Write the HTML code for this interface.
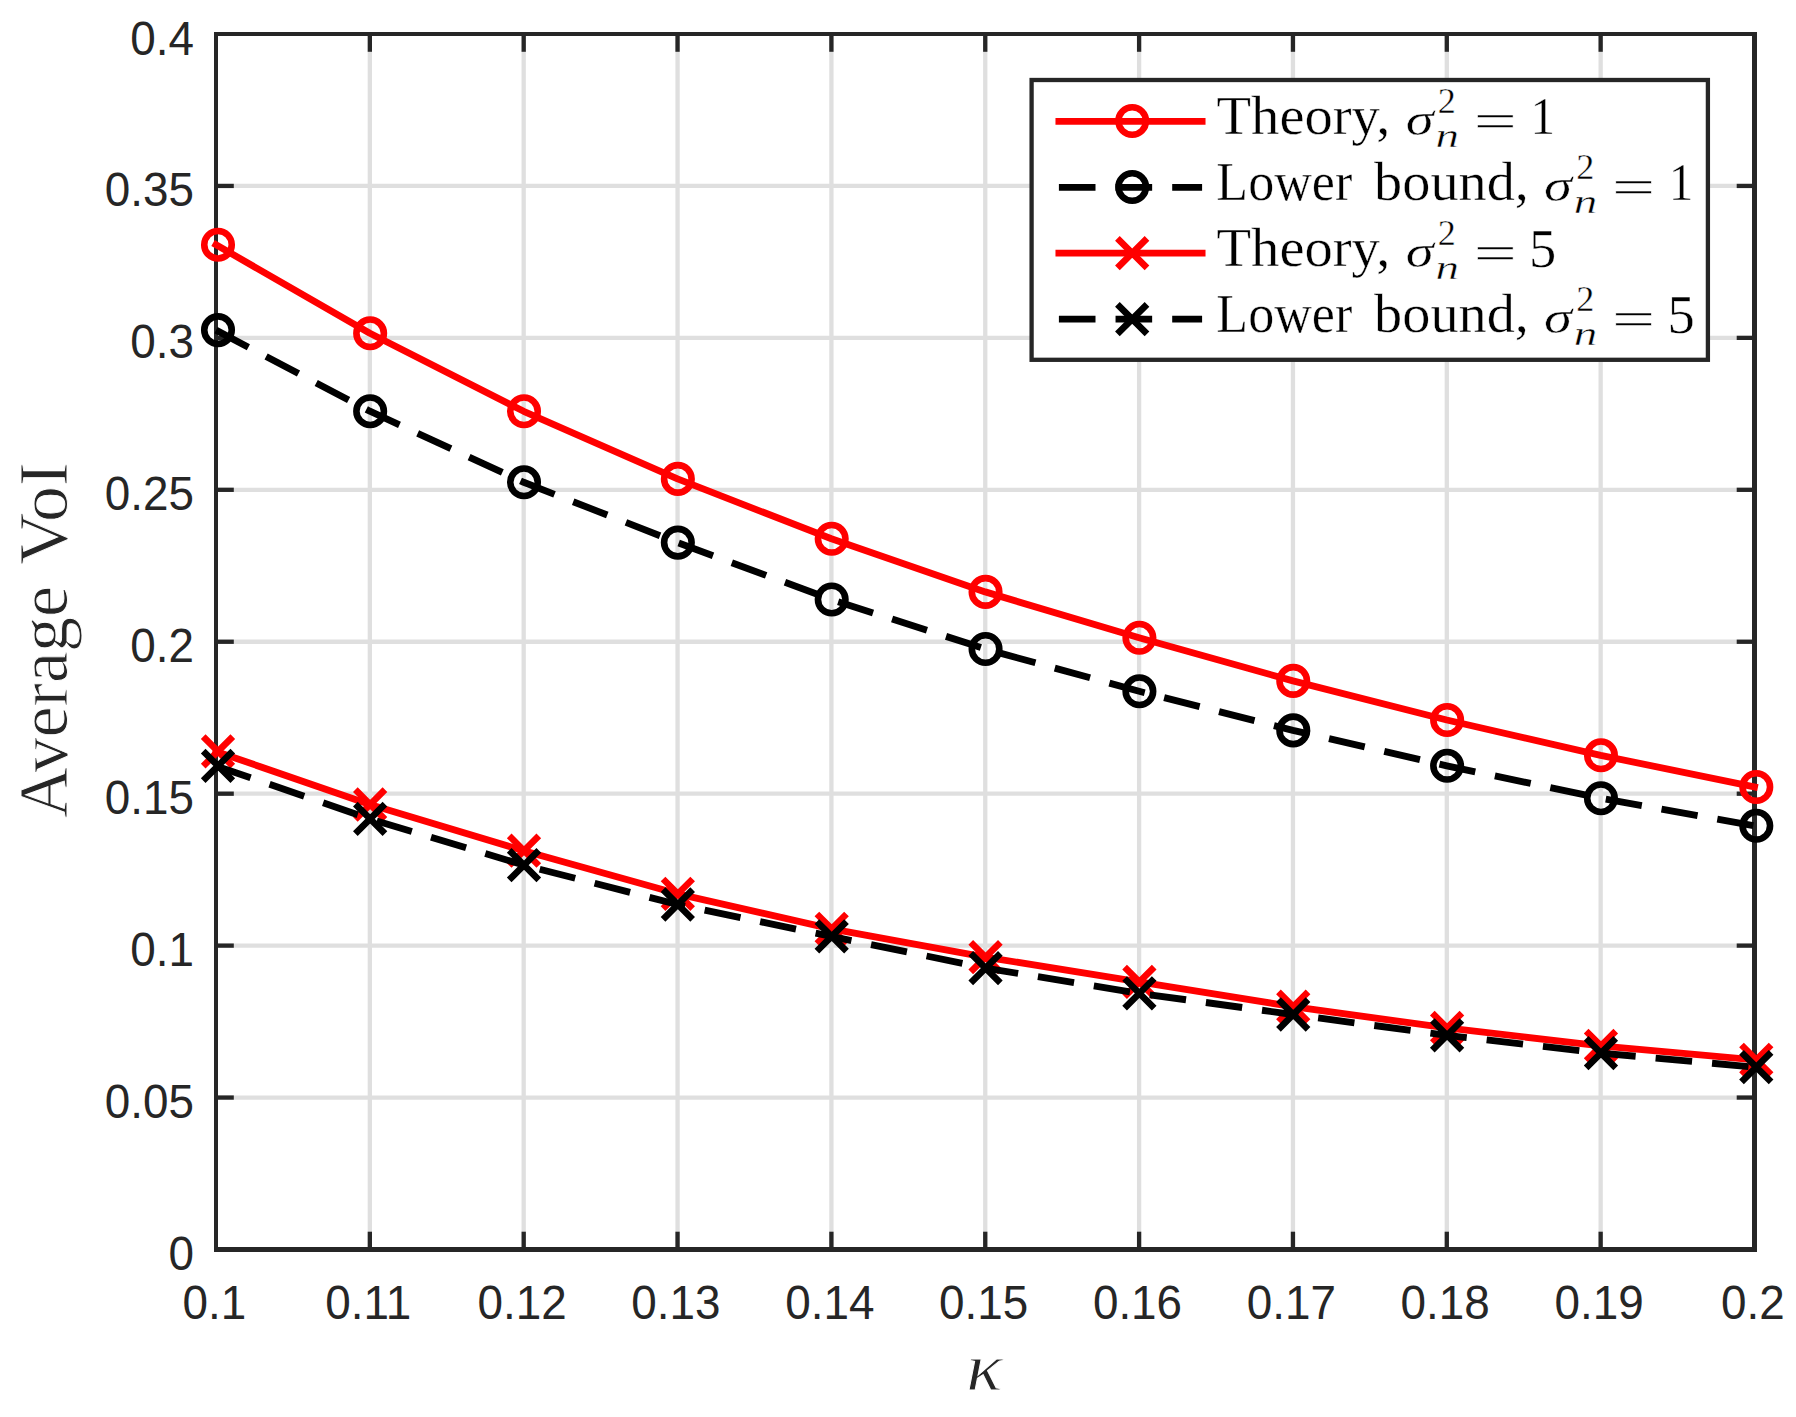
<!DOCTYPE html>
<html lang="en">
<head>
<meta charset="utf-8">
<title>Average VoI versus kappa</title>
<style>
html,body{margin:0;padding:0;background:#fff;}
body{width:1796px;height:1417px;overflow:hidden;}
svg{display:block;}
.tick{font-family:"Liberation Sans",sans-serif;font-size:45.83px;fill:#262626;}
.ser{font-family:"Liberation Serif",serif;fill:#000;stroke:#fff;stroke-width:0.4px;}
.seri{font-family:"Liberation Serif",serif;font-style:italic;fill:#000;stroke:#fff;stroke-width:0.5px;}
</style>
</head>
<body>
<svg width="1796" height="1417" viewBox="0 0 1796 1417">
<rect x="0" y="0" width="1796" height="1417" fill="#ffffff"/>
<g stroke="#dfdfdf" stroke-width="4.30" fill="none">
<line x1="369.85" y1="34.00" x2="369.85" y2="1249.50"/>
<line x1="523.70" y1="34.00" x2="523.70" y2="1249.50"/>
<line x1="677.55" y1="34.00" x2="677.55" y2="1249.50"/>
<line x1="831.40" y1="34.00" x2="831.40" y2="1249.50"/>
<line x1="985.25" y1="34.00" x2="985.25" y2="1249.50"/>
<line x1="1139.10" y1="34.00" x2="1139.10" y2="1249.50"/>
<line x1="1292.95" y1="34.00" x2="1292.95" y2="1249.50"/>
<line x1="1446.80" y1="34.00" x2="1446.80" y2="1249.50"/>
<line x1="1600.65" y1="34.00" x2="1600.65" y2="1249.50"/>
<line x1="216.00" y1="1097.56" x2="1754.50" y2="1097.56"/>
<line x1="216.00" y1="945.62" x2="1754.50" y2="945.62"/>
<line x1="216.00" y1="793.69" x2="1754.50" y2="793.69"/>
<line x1="216.00" y1="641.75" x2="1754.50" y2="641.75"/>
<line x1="216.00" y1="489.81" x2="1754.50" y2="489.81"/>
<line x1="216.00" y1="337.88" x2="1754.50" y2="337.88"/>
<line x1="216.00" y1="185.94" x2="1754.50" y2="185.94"/>
</g>
<g stroke="#262626" stroke-width="4.30" fill="none">
<line x1="369.85" y1="1249.50" x2="369.85" y2="1231.70"/>
<line x1="369.85" y1="34.00" x2="369.85" y2="51.80"/>
<line x1="523.70" y1="1249.50" x2="523.70" y2="1231.70"/>
<line x1="523.70" y1="34.00" x2="523.70" y2="51.80"/>
<line x1="677.55" y1="1249.50" x2="677.55" y2="1231.70"/>
<line x1="677.55" y1="34.00" x2="677.55" y2="51.80"/>
<line x1="831.40" y1="1249.50" x2="831.40" y2="1231.70"/>
<line x1="831.40" y1="34.00" x2="831.40" y2="51.80"/>
<line x1="985.25" y1="1249.50" x2="985.25" y2="1231.70"/>
<line x1="985.25" y1="34.00" x2="985.25" y2="51.80"/>
<line x1="1139.10" y1="1249.50" x2="1139.10" y2="1231.70"/>
<line x1="1139.10" y1="34.00" x2="1139.10" y2="51.80"/>
<line x1="1292.95" y1="1249.50" x2="1292.95" y2="1231.70"/>
<line x1="1292.95" y1="34.00" x2="1292.95" y2="51.80"/>
<line x1="1446.80" y1="1249.50" x2="1446.80" y2="1231.70"/>
<line x1="1446.80" y1="34.00" x2="1446.80" y2="51.80"/>
<line x1="1600.65" y1="1249.50" x2="1600.65" y2="1231.70"/>
<line x1="1600.65" y1="34.00" x2="1600.65" y2="51.80"/>
<line x1="216.00" y1="1097.56" x2="233.80" y2="1097.56"/>
<line x1="1754.50" y1="1097.56" x2="1736.70" y2="1097.56"/>
<line x1="216.00" y1="945.62" x2="233.80" y2="945.62"/>
<line x1="1754.50" y1="945.62" x2="1736.70" y2="945.62"/>
<line x1="216.00" y1="793.69" x2="233.80" y2="793.69"/>
<line x1="1754.50" y1="793.69" x2="1736.70" y2="793.69"/>
<line x1="216.00" y1="641.75" x2="233.80" y2="641.75"/>
<line x1="1754.50" y1="641.75" x2="1736.70" y2="641.75"/>
<line x1="216.00" y1="489.81" x2="233.80" y2="489.81"/>
<line x1="1754.50" y1="489.81" x2="1736.70" y2="489.81"/>
<line x1="216.00" y1="337.88" x2="233.80" y2="337.88"/>
<line x1="1754.50" y1="337.88" x2="1736.70" y2="337.88"/>
<line x1="216.00" y1="185.94" x2="233.80" y2="185.94"/>
<line x1="1754.50" y1="185.94" x2="1736.70" y2="185.94"/>
</g>
<g fill="#262626">
<rect x="214" y="32" width="4" height="1220"/>
<rect x="214" y="32" width="1543" height="4"/>
<rect x="1752" y="32" width="5" height="1220"/>
<rect x="214" y="1247" width="1543" height="5"/>
</g>
<polyline points="216.00,244.70 369.85,333.30 523.70,411.30 677.55,478.90 831.40,538.80 985.25,591.90 1139.10,637.80 1292.95,680.90 1446.80,720.00 1600.65,755.30 1754.50,787.00" fill="none" stroke="#ff0000" stroke-width="6.85" stroke-linecap="square" stroke-linejoin="round"/>
<g fill="none" stroke="#ff0000" stroke-width="6.60" stroke-linejoin="round">
<circle cx="218.00" cy="244.70" r="13.75"/>
<circle cx="370.15" cy="333.30" r="13.75"/>
<circle cx="524.00" cy="411.30" r="13.75"/>
<circle cx="677.85" cy="478.90" r="13.75"/>
<circle cx="831.70" cy="538.80" r="13.75"/>
<circle cx="985.55" cy="591.90" r="13.75"/>
<circle cx="1139.40" cy="637.80" r="13.75"/>
<circle cx="1293.25" cy="680.90" r="13.75"/>
<circle cx="1447.10" cy="720.00" r="13.75"/>
<circle cx="1600.95" cy="755.30" r="13.75"/>
<circle cx="1756.30" cy="787.00" r="13.75"/>
</g>
<polyline points="216.00,330.10 369.85,411.20 523.70,482.30 677.55,542.60 831.40,599.50 985.25,649.00 1139.10,691.30 1292.95,730.40 1446.80,765.80 1600.65,798.20 1754.50,825.80" fill="none" stroke="#000000" stroke-width="6.85" stroke-dasharray="36.6 20.05" stroke-linejoin="round"/>
<g fill="none" stroke="#000000" stroke-width="6.60" stroke-linejoin="round">
<circle cx="218.00" cy="330.10" r="13.75"/>
<circle cx="370.15" cy="411.20" r="13.75"/>
<circle cx="524.00" cy="482.30" r="13.75"/>
<circle cx="677.85" cy="542.60" r="13.75"/>
<circle cx="831.70" cy="599.50" r="13.75"/>
<circle cx="985.55" cy="649.00" r="13.75"/>
<circle cx="1139.40" cy="691.30" r="13.75"/>
<circle cx="1293.25" cy="730.40" r="13.75"/>
<circle cx="1447.10" cy="765.80" r="13.75"/>
<circle cx="1600.95" cy="798.20" r="13.75"/>
<circle cx="1756.30" cy="825.80" r="13.75"/>
</g>
<polyline points="216.00,751.40 369.85,804.50 523.70,850.70 677.55,893.80 831.40,928.80 985.25,957.10 1139.10,981.90 1292.95,1006.70 1446.80,1027.90 1600.65,1045.90 1754.50,1059.80" fill="none" stroke="#ff0000" stroke-width="6.85" stroke-linecap="square" stroke-linejoin="round"/>
<g fill="none" stroke="#ff0000" stroke-width="6.60">
<path d="M203.20 736.60L232.80 766.20M203.20 766.20L232.80 736.60"/>
<path d="M355.35 789.70L384.95 819.30M355.35 819.30L384.95 789.70"/>
<path d="M509.20 835.90L538.80 865.50M509.20 865.50L538.80 835.90"/>
<path d="M663.05 879.00L692.65 908.60M663.05 908.60L692.65 879.00"/>
<path d="M816.90 914.00L846.50 943.60M816.90 943.60L846.50 914.00"/>
<path d="M970.75 942.30L1000.35 971.90M970.75 971.90L1000.35 942.30"/>
<path d="M1124.60 967.10L1154.20 996.70M1124.60 996.70L1154.20 967.10"/>
<path d="M1278.45 991.90L1308.05 1021.50M1278.45 1021.50L1308.05 991.90"/>
<path d="M1432.30 1013.10L1461.90 1042.70M1432.30 1042.70L1461.90 1013.10"/>
<path d="M1586.15 1031.10L1615.75 1060.70M1586.15 1060.70L1615.75 1031.10"/>
<path d="M1741.50 1045.00L1771.10 1074.60M1741.50 1074.60L1771.10 1045.00"/>
</g>
<polyline points="216.00,765.90 369.85,818.90 523.70,865.10 677.55,904.50 831.40,936.40 985.25,968.10 1139.10,993.30 1292.95,1014.50 1446.80,1035.30 1600.65,1053.10 1754.50,1067.10" fill="none" stroke="#000000" stroke-width="6.85" stroke-dasharray="36.6 20.05" stroke-linejoin="round"/>
<g fill="none" stroke="#000000" stroke-width="6.60">
<path d="M203.20 751.10L232.80 780.70M203.20 780.70L232.80 751.10"/>
<path d="M355.35 804.10L384.95 833.70M355.35 833.70L384.95 804.10"/>
<path d="M509.20 850.30L538.80 879.90M509.20 879.90L538.80 850.30"/>
<path d="M663.05 889.70L692.65 919.30M663.05 919.30L692.65 889.70"/>
<path d="M816.90 921.60L846.50 951.20M816.90 951.20L846.50 921.60"/>
<path d="M970.75 953.30L1000.35 982.90M970.75 982.90L1000.35 953.30"/>
<path d="M1124.60 978.50L1154.20 1008.10M1124.60 1008.10L1154.20 978.50"/>
<path d="M1278.45 999.70L1308.05 1029.30M1278.45 1029.30L1308.05 999.70"/>
<path d="M1432.30 1020.50L1461.90 1050.10M1432.30 1050.10L1461.90 1020.50"/>
<path d="M1586.15 1038.30L1615.75 1067.90M1586.15 1067.90L1615.75 1038.30"/>
<path d="M1741.50 1052.30L1771.10 1081.90M1741.50 1081.90L1771.10 1052.30"/>
</g>
<text class="tick" transform="matrix(1 0 0 1.068 214.40 1318.70)" text-anchor="middle">0.1</text>
<text class="tick" transform="matrix(1 0 0 1.068 368.25 1318.70)" text-anchor="middle">0.11</text>
<text class="tick" transform="matrix(1 0 0 1.068 522.10 1318.70)" text-anchor="middle">0.12</text>
<text class="tick" transform="matrix(1 0 0 1.068 675.95 1318.70)" text-anchor="middle">0.13</text>
<text class="tick" transform="matrix(1 0 0 1.068 829.80 1318.70)" text-anchor="middle">0.14</text>
<text class="tick" transform="matrix(1 0 0 1.068 983.65 1318.70)" text-anchor="middle">0.15</text>
<text class="tick" transform="matrix(1 0 0 1.068 1137.50 1318.70)" text-anchor="middle">0.16</text>
<text class="tick" transform="matrix(1 0 0 1.068 1291.35 1318.70)" text-anchor="middle">0.17</text>
<text class="tick" transform="matrix(1 0 0 1.068 1445.20 1318.70)" text-anchor="middle">0.18</text>
<text class="tick" transform="matrix(1 0 0 1.068 1599.05 1318.70)" text-anchor="middle">0.19</text>
<text class="tick" transform="matrix(1 0 0 1.068 1752.90 1318.70)" text-anchor="middle">0.2</text>
<text class="tick" transform="matrix(1 0 0 1.068 193.90 1270.00)" text-anchor="end">0</text>
<text class="tick" transform="matrix(1 0 0 1.068 193.90 1118.06)" text-anchor="end">0.05</text>
<text class="tick" transform="matrix(1 0 0 1.068 193.90 966.12)" text-anchor="end">0.1</text>
<text class="tick" transform="matrix(1 0 0 1.068 193.90 814.19)" text-anchor="end">0.15</text>
<text class="tick" transform="matrix(1 0 0 1.068 193.90 662.25)" text-anchor="end">0.2</text>
<text class="tick" transform="matrix(1 0 0 1.068 193.90 510.31)" text-anchor="end">0.25</text>
<text class="tick" transform="matrix(1 0 0 1.068 193.90 358.38)" text-anchor="end">0.3</text>
<text class="tick" transform="matrix(1 0 0 1.068 193.90 206.44)" text-anchor="end">0.35</text>
<text class="tick" transform="matrix(1 0 0 1.068 193.90 54.50)" text-anchor="end">0.4</text>
<text class="ser" style="fill:#262626;stroke-width:0.9px" font-size="69" transform="matrix(0 -1.0164 1.0200 0 67.00 818.06)">Average</text>
<text class="ser" style="fill:#262626;stroke-width:0.9px" font-size="69" transform="matrix(0 -1.0415 1.0200 0 67.00 564.68)">VoI</text>
<text class="seri" style="fill:#262626;stroke-width:0.9px" font-size="70" transform="matrix(1.0772 0 0 0.9643 966.21 1390.00)">κ</text>
<rect x="1031.60" y="80.00" width="676.30" height="279.80" fill="#ffffff" stroke="#262626" stroke-width="4.30"/>
<line x1="1058.90" y1="121.40" x2="1202.10" y2="121.40" stroke="#ff0000" stroke-width="6.85" stroke-linecap="square"/>
<circle cx="1132.20" cy="121.00" r="13.75" fill="none" stroke="#ff0000" stroke-width="6.60"/>
<line x1="1058.90" y1="187.40" x2="1202.10" y2="187.40" stroke="#000000" stroke-width="6.85" stroke-dasharray="36.6 20.05"/>
<circle cx="1132.20" cy="187.00" r="13.75" fill="none" stroke="#000000" stroke-width="6.60"/>
<line x1="1058.90" y1="253.10" x2="1202.10" y2="253.10" stroke="#ff0000" stroke-width="6.85" stroke-linecap="square"/>
<path d="M1117.40 238.30L1147.00 267.90M1117.40 267.90L1147.00 238.30" fill="none" stroke="#ff0000" stroke-width="6.60"/>
<line x1="1058.90" y1="319.10" x2="1202.10" y2="319.10" stroke="#000000" stroke-width="6.85" stroke-dasharray="36.6 20.05"/>
<path d="M1117.40 304.30L1147.00 333.90M1117.40 333.90L1147.00 304.30" fill="none" stroke="#000000" stroke-width="6.60"/>
<text class="ser" font-size="54" transform="matrix(1.0477 0 0 1.0000 1216.55 134.30)">Theory,</text>
<text class="seri" font-size="55" transform="matrix(1.0296 0 0 0.8313 1405.70 134.68)">σ</text>
<text class="ser" font-size="38" transform="matrix(0.9508 0 0 0.9267 1437.84 112.90)">2</text>
<text class="seri" font-size="38" transform="matrix(1.2375 0 0 0.8958 1435.44 147.10)">n</text>
<text class="ser" font-size="55" transform="matrix(1.3882 0 0 0.9185 1473.78 137.86)">=</text>
<text class="ser" font-size="55" transform="matrix(0.8923 0 0 0.9766 1530.56 134.30)">1</text>
<text class="ser" font-size="54" transform="matrix(0.9647 0 0 1.0000 1216.35 200.30)">Lower</text>
<text class="ser" font-size="54" transform="matrix(1.0428 0 0 1.0000 1374.10 200.30)">bound,</text>
<text class="seri" font-size="55" transform="matrix(1.0296 0 0 0.8313 1544.00 200.68)">σ</text>
<text class="ser" font-size="38" transform="matrix(0.9508 0 0 0.9267 1576.14 178.90)">2</text>
<text class="seri" font-size="38" transform="matrix(1.2375 0 0 0.8958 1573.74 213.10)">n</text>
<text class="ser" font-size="55" transform="matrix(1.3882 0 0 0.9185 1612.08 203.86)">=</text>
<text class="ser" font-size="55" transform="matrix(0.8923 0 0 0.9766 1668.86 200.30)">1</text>
<text class="ser" font-size="54" transform="matrix(1.0477 0 0 1.0000 1216.55 266.20)">Theory,</text>
<text class="seri" font-size="55" transform="matrix(1.0296 0 0 0.8313 1405.70 266.58)">σ</text>
<text class="ser" font-size="38" transform="matrix(0.9508 0 0 0.9267 1437.84 244.80)">2</text>
<text class="seri" font-size="38" transform="matrix(1.2375 0 0 0.8958 1435.44 279.00)">n</text>
<text class="ser" font-size="55" transform="matrix(1.3882 0 0 0.9185 1473.78 269.76)">=</text>
<text class="ser" font-size="55" transform="matrix(0.9909 0 0 0.9973 1529.08 266.60)">5</text>
<text class="ser" font-size="54" transform="matrix(0.9647 0 0 1.0000 1216.35 332.20)">Lower</text>
<text class="ser" font-size="54" transform="matrix(1.0428 0 0 1.0000 1374.10 332.20)">bound,</text>
<text class="seri" font-size="55" transform="matrix(1.0296 0 0 0.8313 1544.00 332.58)">σ</text>
<text class="ser" font-size="38" transform="matrix(0.9508 0 0 0.9267 1576.14 310.80)">2</text>
<text class="seri" font-size="38" transform="matrix(1.2375 0 0 0.8958 1573.74 345.00)">n</text>
<text class="ser" font-size="55" transform="matrix(1.3882 0 0 0.9185 1612.08 335.76)">=</text>
<text class="ser" font-size="55" transform="matrix(0.9909 0 0 0.9973 1667.38 332.60)">5</text>
</svg>
</body>
</html>
